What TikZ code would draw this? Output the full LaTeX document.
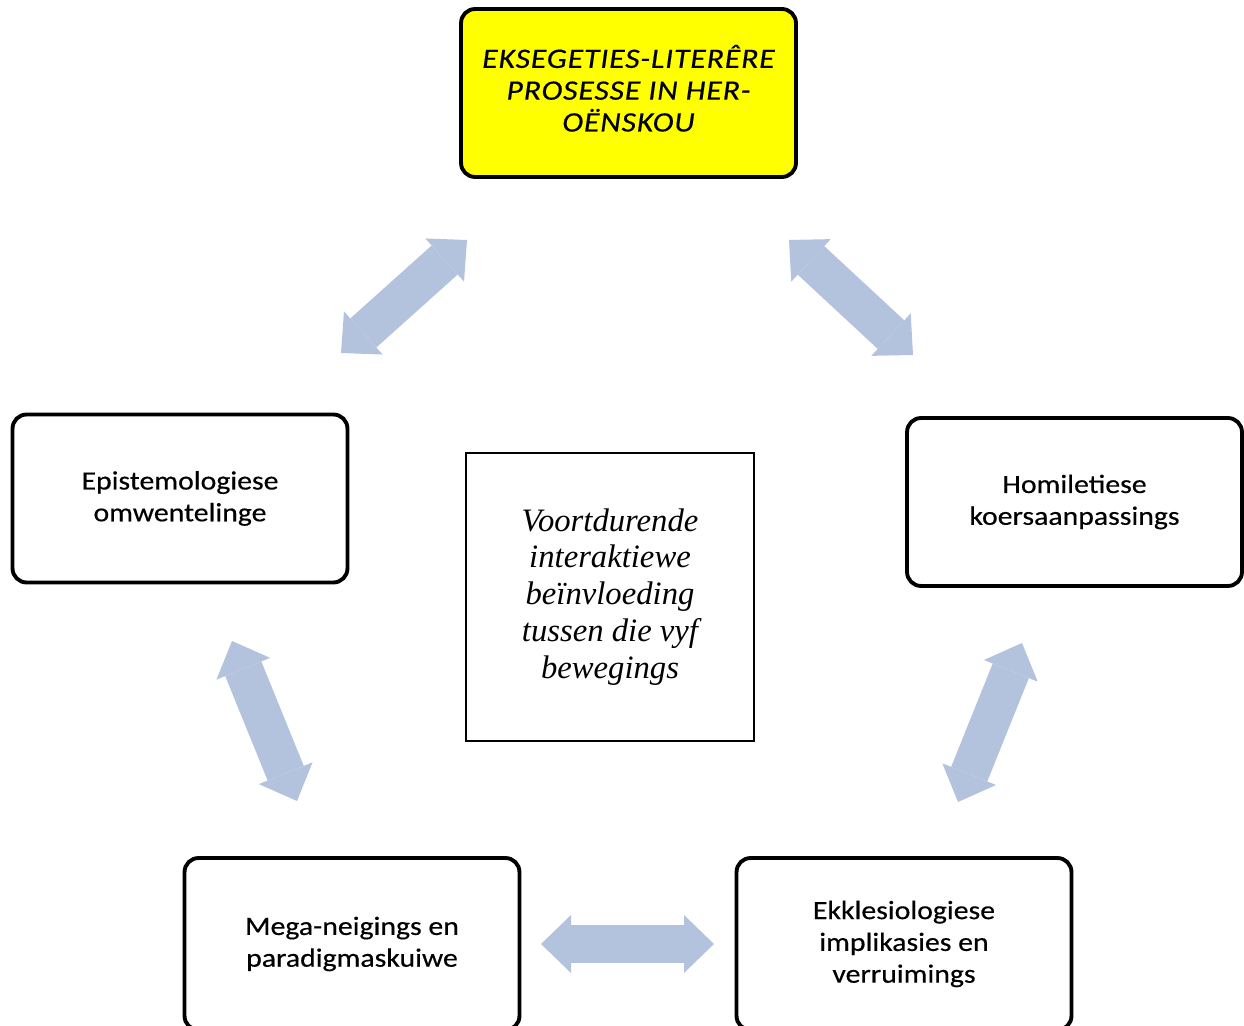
\documentclass[tikz,border=0pt]{standalone}
\usepackage{fontspec}
\setmainfont{Carlito}
\newfontfamily\kasfont{Carlito}[FakeStretch=1.13,FakeBold=0.4]
\newfontfamily\serifit{Liberation Serif}
\usepackage{xcolor}
\definecolor{myyellow}{RGB}{255,255,0}
\definecolor{myblue}{RGB}{180,195,221}
\usetikzlibrary{arrows.meta}

\begin{document}
\begin{tikzpicture}[x=0.02cm,y=-0.02cm]
	\tikzstyle{kas}=[draw,line width=2.2pt,rounded corners=8pt,minimum width=6.7cm,minimum height=3.36cm,inner sep=0pt,align=center,font=\kasfont\fontsize{15}{18.1}\selectfont];
	\tikzstyle{pyl}=[myblue,line width=0.78cm,line cap=butt,{Triangle[length=0.6cm,width=1.16cm,line width=0pt]}-{Triangle[length=0.6cm,width=1.16cm,line width=0pt]}];
	\useasboundingbox (0,0) rectangle (1244,1026);
	% boxes
	\node[kas,fill=myyellow,font=\kasfont\itshape\addfontfeature{LetterSpace=3}\fontsize{16}{18.1}\selectfont] (her) at (628.5,93) {EKSEGETIES-LITERÊRE\\PROSESSE IN HER-\\OËNSKOU\rule[-5.5pt]{0pt}{0pt}};
	\node[kas] (epi) at (180,498.5) {Epistemologiese\\omwentelinge};
	\node[kas] (hom) at (1074.5,502) {Homiletiese\\koersaanpassings};
	\node[kas,minimum height=3.44cm] (meg) at (352,944) {Mega-neigings en\\paradigmaskuiwe};
	\node[kas,minimum height=3.44cm] (ekk) at (904,944) {Ekklesiologiese\\implikasies en\\verruimings};
	\node[draw,line width=0.8pt,minimum size=5.76cm,inner sep=0pt,align=center,font=\serifit\itshape\fontsize{18.6}{21}\selectfont] (vyf) at (610,597) {Voortdurende\\interaktiewe\\beïnvloeding\\tussen die vyf\\bewegings};
	% arrow ends
	\coordinate (p1) at (341,353); \coordinate (p2) at (467,240);
	\coordinate (p3) at (789,240); \coordinate (p4) at (913,355);
	\coordinate (p5) at (232,641); \coordinate (p6) at (297,801);
	\coordinate (p7) at (1022,643); \coordinate (p8) at (958,802);
	\coordinate (p9) at (541,944); \coordinate (p10) at (714,944);
	\draw[pyl] (p1) -- (p2);
	\draw[pyl] (p3) -- (p4);
	\draw[pyl] (p5) -- (p6);
	\draw[pyl] (p7) -- (p8);
	\draw[pyl] (p9) -- (p10);
\end{tikzpicture}
\end{document}
